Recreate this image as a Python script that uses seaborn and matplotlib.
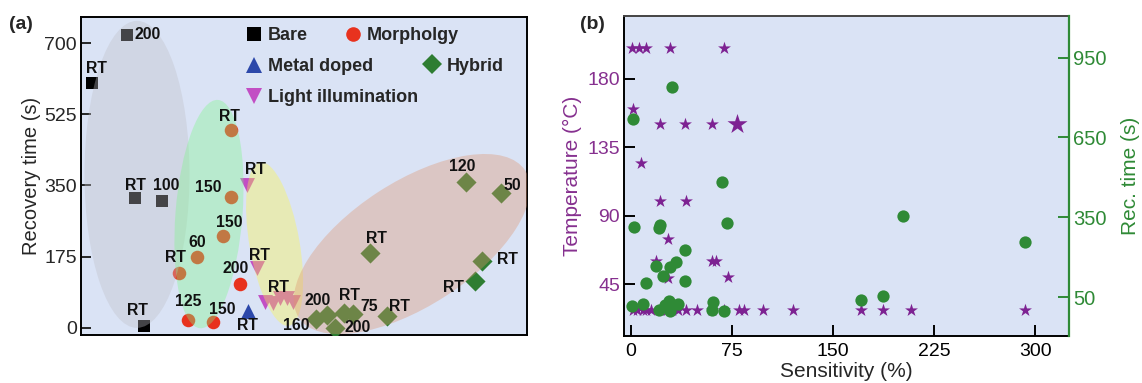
import numpy as np
import pandas as pd
import matplotlib
matplotlib.use("Agg")
import matplotlib.pyplot as plt
import seaborn as sns
from matplotlib.patches import Ellipse
from matplotlib.lines import Line2D
from matplotlib.transforms import ScaledTranslation, IdentityTransform

# ---------------- data: panel (a) ----------------
# x is an arbitrary (unlabelled) position index, y is recovery time (s)
bare_x = [10.4, 2.5, 12.1, 18.1, 14.2]
bare_y = [720, 602, 318, 311, 5]
bare_lab = ["200", "RT", "RT", "100", "RT"]

morph_x = [33.6, 33.6, 31.8, 26.1, 22.0, 35.6, 24.1, 29.7]
morph_y = [486, 322, 226, 173, 135, 107, 19, 13]
morph_lab = ["RT", "150", "150", "60", "RT", "200", "125", "150"]

metal_x = [37.5]
metal_y = [41]
metal_lab = ["RT"]

light_x = [37.2, 39.4, 41.3, 43.0, 44.6, 46.2, 47.5]
light_y = [351, 148, 62, 60, 72, 72, 63]
light_lab = ["RT", "RT", "", "", "RT", "", "160"]

hyb_x = [86.3, 94.1, 64.8, 90.0, 88.3, 52.8, 55.1, 57.0, 59.0, 60.9, 68.5]
hyb_y = [359, 332, 183, 165, 115, 21, 31, 0, 37, 33, 29]
hyb_lab = ["120", "50", "RT", "RT", "RT", "200", "", "200", "RT", "75", "RT"]

cat_names = ["Bare", "Metal doped", "Light illumination", "Morpholgy", "Hybrid"]

# ---------------- data: panel (b) ----------------
star_sens = [1, 6, 11, 29, 69, 1.5, 22, 40, 60, 79, 8, 22, 41, 27.5, 19, 60, 63.5, 72.5, 28,
             2, 5, 9, 11, 15, 22, 27, 31, 35, 41, 49, 60, 69, 80, 84, 98, 120, 171, 187, 208, 292]
star_temp = [200, 200, 200, 200, 200, 160, 150, 150, 150, 150, 125, 100, 100, 75, 60, 60, 60, 50, 49,
             28, 28, 28, 28, 28, 28, 28, 28, 28, 28, 28, 28, 28, 28, 28, 28, 28, 28, 28, 28, 28]
star_big = [False] * 9 + [True] + [False] * 30

circ_sens = [30.4, 1.5, 68, 2.7, 21.7, 21.2, 71.7, 40.3, 33.5, 29.2, 18.6, 24, 11.2, 40.3,
             1.2, 9, 21, 25.4, 28.6, 29.2, 35.4, 60.8, 60.1, 69.2, 171, 187.4, 201.8, 292.5]
circ_rec = [840, 718, 484, 315, 321, 309, 328, 227, 182, 162, 168, 130, 102, 112,
            16, 24, 2, 21, 35, 0, 26, 34, 2, 0, 40, 55, 356, 256]

# ---------------- style ----------------
sns.set_style("ticks")
plt.rcParams["font.family"] = ["Liberation Sans", "DejaVu Sans"]
plt.rcParams["axes.linewidth"] = 1.4

BG = "#dae3f5"
col = {"Bare": "#000000", "Morpholgy": "#e8321e", "Metal doped": "#2c48aa",
       "Light illumination": "#c24ec4", "Hybrid": "#2e7d32"}
mk = {"Bare": "s", "Morpholgy": "o", "Metal doped": "^", "Light illumination": "v", "Hybrid": "D"}
sz = {"Bare": 80, "Morpholgy": 95, "Metal doped": 115, "Light illumination": 115, "Hybrid": 105}
PURPLE = "#86308f"
STAR = "#7d2292"
GREEN = "#2f8a36"

fig = plt.figure(figsize=(11.42, 3.83), dpi=100)
axA = fig.add_axes([0.0709, 0.1253, 0.3906, 0.8303])
axB = fig.add_axes([0.5467, 0.1235, 0.3894, 0.8355])

# ---------------- panel (a) ----------------
axA.set_facecolor(BG)
rows = []
for name, xs, ys, labs in [("Bare", bare_x, bare_y, bare_lab),
                           ("Metal doped", metal_x, metal_y, metal_lab),
                           ("Light illumination", light_x, light_y, light_lab),
                           ("Morpholgy", morph_x, morph_y, morph_lab),
                           ("Hybrid", hyb_x, hyb_y, hyb_lab)]:
    for x, y, l in zip(xs, ys, labs):
        rows.append({"x": x, "y": y, "cat": name, "lab": l})
dfA = pd.DataFrame(rows)

for name in cat_names:
    sub = dfA[dfA["cat"] == name]
    sns.scatterplot(data=sub, x="x", y="y", ax=axA, color=col[name], marker=mk[name],
                    s=sz[name], linewidth=0, legend=False, zorder=3)

axA.set_xlim(0, 100)
axA.set_ylim(-18, 764)

# translucent group ellipses (drawn over markers), size in pixels
def add_ellipse(ax, xd, yd, w, h, ang, color, alpha=0.36):
    tr = IdentityTransform() + ScaledTranslation(xd, yd, ax.transData)
    e = Ellipse((0, 0), w, h, angle=ang, transform=tr, facecolor=color,
                edgecolor="none", alpha=alpha, zorder=4)
    ax.add_patch(e)
    e.set_clip_path(ax.patch)

add_ellipse(axA, 12.56, 377, 105, 307, 0, "#bfbfc7")
add_ellipse(axA, 28.7, 279.4, 67, 229, -4.5, "#7df78a")
add_ellipse(axA, 43.4, 205.7, 50, 166, 10, "#fff745")
add_ellipse(axA, 74.2, 205.7, 270, 124, 33, "#de946e")

# point annotations (offsets in points)
offs = {
    "Bare": [(14.9, 0.2), (3.4, 10.6), (0, 9.6), (2.9, 11.5), (-5.3, 10.6)],
    "Morpholgy": [(-0.7, 10.1), (-16.6, 7.0), (4.5, 9.9), (-0.2, 11.0), (-2.4, 11.3),
                  (-2.9, 11.5), (0.2, 13.0), (6.3, 9.6)],
    "Metal doped": [(-0.9, -10.1)],
    "Light illumination": [(6.0, 10.8), (1.7, 8.9), (0, 0), (0, 0), (-1.2, 8.2), (0, 0), (2.2, -16.8)],
    "Hybrid": [(-2.7, 11.3), (8.1, 5.5), (4.3, 10.3), (17.8, 0.5), (-15.1, -4.5), (0.9, 13.2),
               (0, 0), (15.8, -0.2), (4.1, 12.7), (11.7, 5.3), (9.6, 6.5)],
}
for name in cat_names:
    sub = dfA[dfA["cat"] == name].reset_index(drop=True)
    for i, r in sub.iterrows():
        if r["lab"]:
            axA.annotate(r["lab"], (r["x"], r["y"]), xytext=offs[name][i],
                         textcoords="offset points", ha="center", va="center",
                         fontsize=11.3, fontweight="bold", color="#111111", zorder=6)

axA.set_xticks([])
axA.set_yticks([0, 175, 350, 525, 700])
axA.tick_params(axis="y", direction="in", length=7, width=1.4, labelsize=14, pad=3)
axA.set_ylabel("Recovery time (s)", fontsize=14.5, labelpad=2)
axA.set_xlabel("")
for s in axA.spines.values():
    s.set_color("black")
    s.set_linewidth(1.4)

def handle(name, ms):
    return Line2D([], [], linestyle="none", marker=mk[name], color=col[name],
                  markersize=ms, markeredgewidth=0)

legkw = dict(frameon=False, handlelength=1.0, handletextpad=0.28,
             borderaxespad=0, borderpad=0, labelspacing=0.77, loc="upper left",
             prop={"weight": "bold", "size": 13})
lg1 = axA.legend(handles=[handle("Bare", 9.5), handle("Metal doped", 11), handle("Light illumination", 11)],
                 labels=["Bare", "Metal doped", "Light illumination"],
                 bbox_to_anchor=(0.368, 0.967), **legkw)
axA.add_artist(lg1)
lg2 = axA.legend(handles=[handle("Morpholgy", 10.5)], labels=["Morpholgy"],
                 bbox_to_anchor=(0.589, 0.967), **legkw)
axA.add_artist(lg2)
lg3 = axA.legend(handles=[handle("Hybrid", 10)], labels=["Hybrid"],
                 bbox_to_anchor=(0.7675, 0.872), **legkw)
for lg in (lg1, lg2, lg3):
    lg.set_zorder(7)

# ---------------- panel (b) ----------------
axB.set_facecolor(BG)
dfS = pd.DataFrame({"sens": star_sens, "temp": star_temp, "big": star_big})
sns.scatterplot(data=dfS[~dfS["big"]], x="sens", y="temp", ax=axB, marker="*", s=95,
                color=STAR, linewidth=0, legend=False, zorder=3)
sns.scatterplot(data=dfS[dfS["big"]], x="sens", y="temp", ax=axB, marker="*", s=230,
                color=STAR, linewidth=0, legend=False, zorder=3)
axB.set_xlim(-4.7, 325)
axB.set_ylim(11.2, 221.5)
axB.set_xticks([0, 75, 150, 225, 300])
axB.set_yticks([45, 90, 135, 180])
axB.tick_params(axis="x", direction="in", length=8, width=1.4, labelsize=14, pad=5, colors="black")
axB.tick_params(axis="y", direction="in", length=8, width=1.4, labelsize=14, pad=3,
                colors="black", labelcolor=PURPLE)
axB.set_xlabel("Sensitivity (%)", fontsize=15, labelpad=2)
axB.set_ylabel("Temperature (°C)", fontsize=15, color=PURPLE, labelpad=4)

axR = axB.twinx()
dfC = pd.DataFrame({"sens": circ_sens, "rec": circ_rec})
sns.scatterplot(data=dfC, x="sens", y="rec", ax=axR, marker="o", s=78, color=GREEN,
                linewidth=0, legend=False, zorder=3)
axR.set_ylim(-94, 1107)
axR.set_yticks([50, 350, 650, 950])
axR.tick_params(axis="y", direction="in", length=8, width=1.4, labelsize=14.5, pad=3,
                colors=GREEN, labelcolor=GREEN)
axR.set_ylabel("Rec. time (s)", fontsize=15, color=GREEN, labelpad=10)
axR.set_xlim(-4.7, 325)

axB.spines["left"].set_color("black")
axB.spines["bottom"].set_color("black")
axB.spines["top"].set_color("#444444")
for sp in ("left", "right", "bottom", "top"):
    axR.spines[sp].set_visible(sp == "right")
axR.spines["right"].set_color(GREEN)
axR.spines["right"].set_linewidth(1.6)
axB.spines["right"].set_visible(False)

fig.text(0.008, 0.937, "(a)", fontsize=14, fontweight="bold", va="center")
fig.text(0.508, 0.937, "(b)", fontsize=14, fontweight="bold", va="center")

fig.savefig("out.png", dpi=100, facecolor="white")
